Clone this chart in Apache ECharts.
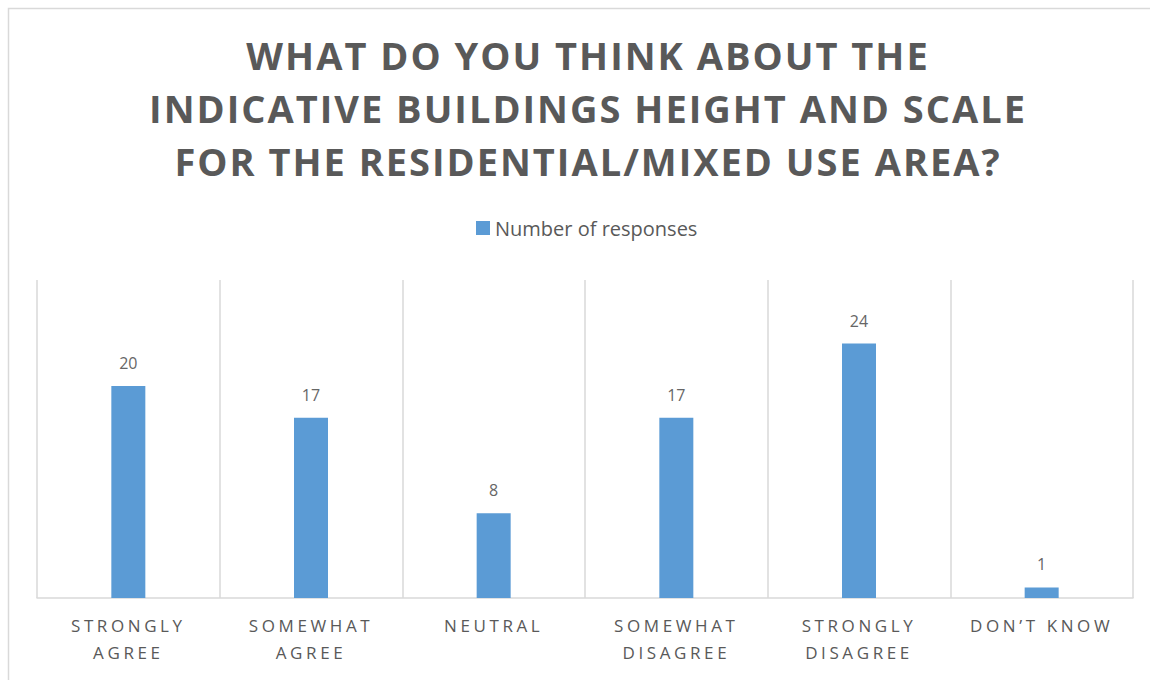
<!DOCTYPE html>
<html>
<head>
<meta charset="utf-8">
<script src="https://cdn.jsdelivr.net/npm/echarts@6/dist/echarts.min.js"></script>
<style>
html,body{margin:0;padding:0;background:#fff;}
#c{width:1150px;height:680px;}
#c text[style*="38px"]{letter-spacing:2px;}
#c text[style*="17px"]{letter-spacing:3.6px;}
</style>
</head>
<body>
<div id="c"></div>
<script>
const titleLines = ['WHAT DO YOU THINK ABOUT THE', 'INDICATIVE BUILDINGS HEIGHT AND SCALE', 'FOR THE RESIDENTIAL/MIXED USE AREA?'];
const categories = ['STRONGLY\nAGREE', 'SOMEWHAT\nAGREE', 'NEUTRAL', 'SOMEWHAT\nDISAGREE', 'STRONGLY\nDISAGREE', 'DON\u2019T KNOW'];
const seriesName = 'Number of responses';
const values = [20, 17, 8, 17, 24, 1];

const chart = echarts.init(document.getElementById('c'), null, {renderer: 'svg'});
chart.setOption({
  backgroundColor: '#ffffff',
  animation: false,
  graphic: [{
    type: 'rect', silent: true,
    shape: {x: 8.5, y: 8.5, width: 1300, height: 800},
    style: {fill: 'none', stroke: '#d9d9d9', lineWidth: 1.5}
  }],
  title: {
    text: titleLines.join('\n'),
    left: 583, top: 23, textAlign: 'center',
    textStyle: {fontFamily: 'Open Sans', fontWeight: 'bold', fontSize: 38, lineHeight: 53, color: '#595959'}
  },
  legend: {
    data: [seriesName],
    left: 471, top: 213,
    itemWidth: 14, itemHeight: 14, itemGap: 5,
    icon: 'rect',
    textStyle: {fontFamily: 'Open Sans', fontSize: 20, color: '#595959'}
  },
  grid: {left: 37, right: 17, top: 280, bottom: 82, containLabel: false},
  xAxis: {
    type: 'category',
    data: categories,
    axisLine: {show: true, lineStyle: {color: '#d9d9d9', width: 1.5}},
    axisTick: {show: false},
    splitLine: {show: true, lineStyle: {color: '#d9d9d9', width: 1.5}},
    axisLabel: {fontFamily: 'Open Sans', fontSize: 17, lineHeight: 27, color: '#595959', margin: 14, interval: 0}
  },
  yAxis: {
    type: 'value', min: 0, max: 30, interval: 5,
    show: false,
    splitLine: {show: false}
  },
  series: [{
    name: seriesName,
    type: 'bar',
    data: values,
    barWidth: 34,
    itemStyle: {color: '#5b9bd5'},
    label: {show: true, position: 'top', distance: 15, fontFamily: 'Open Sans', fontSize: 16, color: '#666666'}
  }]
});
</script>
</body>
</html>
